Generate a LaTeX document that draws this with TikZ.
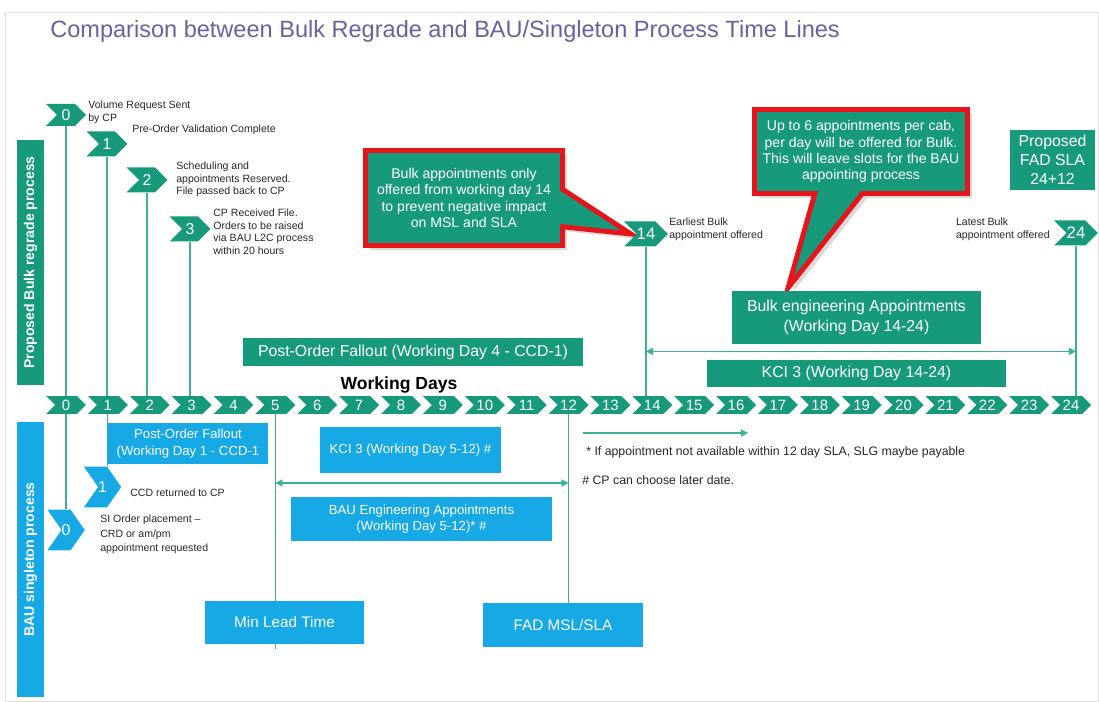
\documentclass[tikz,border=0pt]{standalone}
\usepackage{fontspec}
\setmainfont{Liberation Sans}
\usetikzlibrary{shapes.symbols,shapes.callouts,arrows.meta,backgrounds,shadows}
\definecolor{bulkgreen}{HTML}{179A7B}
\definecolor{baublue}{HTML}{16A9E5}
\definecolor{calloutred}{HTML}{E8141C}
\definecolor{titlepurple}{HTML}{6D5E9E}
\definecolor{linegreen}{HTML}{3DAF93}
\tikzset{
  daychev/.style={shape=signal, signal from=west, signal to=east, signal pointer angle=90,
    fill=bulkgreen, text=white, inner sep=0pt, minimum width=0.8cm, minimum height=0.36cm,
    font=\fontsize{8.5}{9}\selectfont},
  stepchev/.style={daychev, minimum width=0.82cm, minimum height=0.5cm, font=\fontsize{9}{10}\selectfont},
  baustepchev/.style={shape=signal, signal from=west, signal to=east, signal pointer angle=110,
    fill=baublue, text=white, inner sep=0pt, minimum width=0.7cm, minimum height=0.82cm,
    font=\fontsize{9}{10}\selectfont},
  greenbox/.style={fill=bulkgreen, text=white, align=center, inner sep=0pt, font=\fontsize{9}{11}\selectfont},
  bluebox/.style={fill=baublue, text=white, align=center, inner sep=0pt, font=\fontsize{7.5}{9.5}\selectfont},
  note/.style={align=left, inner sep=0pt, text=black!85, font=\fontsize{6}{7}\selectfont},
  vline/.style={draw=linegreen, line width=0.7pt},
  dblarrow/.style={vline, {Triangle[length=4pt,width=4pt]}-{Triangle[length=4pt,width=4pt]}},
  callbox/.style={shape=rectangle callout, fill=bulkgreen, draw=calloutred, line width=2.8pt,
    text=white, align=center, inner sep=0pt, font=\fontsize{8}{9.2}\selectfont,
    drop shadow={opacity=0.3}},
  sidebar/.style={rotate=90, text=white, inner sep=0pt, font=\bfseries\fontsize{8}{9}\selectfont}
}
\begin{document}
\begin{tikzpicture}[x=0.02cm,y=-0.02cm]
\useasboundingbox (0,0) rectangle (1099,702);
\draw[black!12] (5,12) rectangle (1098,701);

% title and side bars
\node[anchor=west, inner sep=0pt, text=titlepurple, font=\fontsize{13.4}{16}\selectfont] (title) at (50,31)
  {Comparison between Bulk Regrade and BAU/Singleton Process Time Lines};
\node[sidebar, fill=bulkgreen, minimum width=4.9cm, minimum height=0.54cm] (bulkbar) at (30.5,262.5) {Proposed Bulk regrade process};
\node[sidebar, fill=baublue, minimum width=5.5cm, minimum height=0.54cm] (baubar) at (30.5,559.5) {BAU singleton process};

% callouts
\coordinate (tip14) at (631,234);
\coordinate (tipbulk) at (788,288);
\node[callbox, minimum width=3.94cm, minimum height=1.9cm, callout absolute pointer={(tip14)},
  callout pointer width=0.75cm] (call14) at (464,198)
  {Bulk appointments only\\offered from working day 14\\to prevent negative impact\\on MSL and SLA};
\node[callbox, minimum width=4.26cm, minimum height=1.68cm, callout absolute pointer={(tipbulk)},
  callout pointer width=0.95cm] (callbulk) at (861,151.5)
  {Up to 6 appointments per cab,\\per day will be offered for Bulk.\\This will leave slots for the BAU\\appointing process};

% working days
\foreach \d in {0,...,24}
  \node[daychev] (d\d) at ({66+41.875*\d},405) {\d};
\node[font=\bfseries\fontsize{10}{12}\selectfont, inner sep=0pt] (wdays) at (399,385) {Working Days};

% bulk steps
\node[stepchev, minimum width=0.8cm, minimum height=0.44cm] (t0) at (66,115) {0};
\node[stepchev] (t1) at (107,144) {1};
\node[stepchev] (t2) at (147,180) {2};
\node[stepchev] (t3) at (190,229) {3};
\node[stepchev, font=\fontsize{9.5}{10}\selectfont] (t14) at (646,234) {14};
\node[stepchev, font=\fontsize{9.5}{10}\selectfont] (t24) at (1076,233) {24};
\node[note, anchor=north west] (n0) at (88,101) {Volume Request Sent\\by CP};
\node[note, anchor=north west] (n1) at (132,125) {Pre-Order Validation Complete};
\node[note, anchor=north west] (n2) at (176,162) {Scheduling and\\appointments Reserved.\\File passed back to CP};
\node[note, anchor=north west, font=\fontsize{6}{7.1}\selectfont] (n3) at (213,209) {CP Received File.\\Orders to be raised\\via BAU L2C process\\within 20 hours};
\node[note, anchor=north west] (n14) at (669,218) {Earliest Bulk\\appointment offered};
\node[note, anchor=north east] (n24) at (1050,218) {Latest Bulk\\appointment offered};

\node[greenbox, minimum width=1.7cm, minimum height=1.2cm, font=\fontsize{9}{10.8}\selectfont] (fadsla) at (1052.5,160) {Proposed\\FAD SLA\\24+12};
\node[greenbox, minimum width=4.98cm, minimum height=1.06cm] (bulkbox) at (856.5,317.5) {Bulk engineering Appointments\\(Working Day 14-24)};
\node[greenbox, minimum width=5.98cm, minimum height=0.54cm] (kcibulk) at (856.5,373.5) {KCI 3 (Working Day 14-24)};
\node[greenbox, minimum width=6.8cm, minimum height=0.56cm] (pofbulk) at (413,352) {Post-Order Fallout (Working Day 4 - CCD-1)};

% bau steps
\node[baustepchev] (b1) at (102.5,487) {1};
\node[baustepchev] (b0) at (66,530) {0};
\node[note, anchor=west] (nb1) at (130,493) {CCD returned to CP};
\node[note, anchor=north west, font=\fontsize{6}{8}\selectfont] (nb0) at (100,515) {SI Order placement --\\CRD or am/pm\\appointment requested};
\node[bluebox, minimum width=3.2cm, minimum height=0.82cm] (pofbau) at (188,443.5) {Post-Order Fallout\\(Working Day 1 - CCD-1};
\node[bluebox, minimum width=3.62cm, minimum height=0.92cm] (kcibau) at (410.5,450) {KCI 3 (Working Day 5-12) \#};
\node[bluebox, minimum width=5.22cm, minimum height=0.88cm] (baueng) at (421.5,519) {BAU Engineering Appointments\\(Working Day 5-12)* \#};
\node[bluebox, minimum width=3.18cm, minimum height=0.86cm, font=\fontsize{8.7}{10}\selectfont] (mlt) at (284.5,622.5) {Min Lead Time};
\node[bluebox, minimum width=3.2cm, minimum height=0.88cm, font=\fontsize{8.7}{10}\selectfont] (fad) at (563,625) {FAD MSL/SLA};
\node[note, anchor=west, font=\fontsize{7}{8}\selectfont] (slgnote) at (586,452) {* If appointment not available within 12 day SLA, SLG maybe payable};
\node[note, anchor=west, font=\fontsize{7}{8}\selectfont] (cpnote) at (582,480) {\# CP can choose later date.};

% connectors
\coordinate (arrowtop) at ([yshift=-4pt]bulkbox.south);
\coordinate (arrowbot) at ([yshift=-5.5pt]kcibau.south);
\coordinate (slgstart) at (583,433);
\coordinate (slgend) at (748,433);
\begin{pgfonlayer}{background}
\draw[vline] (t0.south) -- (t0.south |- d0.north);
\draw[vline] (t1.south) -- (t1.south |- d1.north);
\draw[vline] (t2.south) -- (t2.south |- d2.north);
\draw[vline] (t3.south) -- (t3.south |- d3.north);
\draw[vline] (t14.south) -- (t14.south |- d14.north);
\draw[vline] (t24.south) -- (t24.south |- d24.north);
\draw[vline] (d0.south) -- (d0.south |- b0.north);
\draw[vline] (d1.south) -- (d1.south |- b1.north);
\draw[vline] (d5.south) -- ([yshift=-2.5pt]d5.south |- mlt.south);
\draw[vline] (d12.south) -- (d12.south |- fad.north);
\end{pgfonlayer}
\draw[dblarrow] (t14.south |- arrowtop) -- (t24.south |- arrowtop);
\draw[dblarrow] (d5.south |- arrowbot) -- (d12.south |- arrowbot);
\draw[vline, -{Triangle[length=4pt,width=4pt]}] (slgstart) -- (slgend);
\end{tikzpicture}
\end{document}
